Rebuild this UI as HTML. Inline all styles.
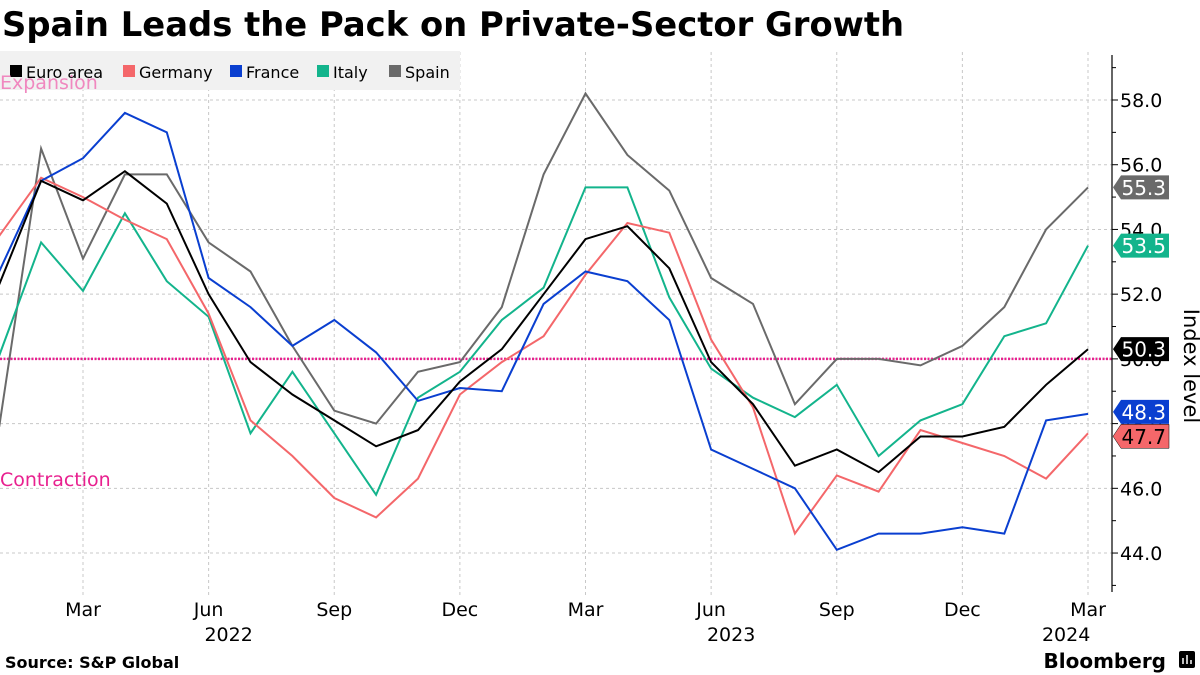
<!DOCTYPE html>
<html><head><meta charset="utf-8"><style>
body{margin:0;background:#fff;}
svg{display:block;font-family:"DejaVu Sans","Liberation Sans",sans-serif;}
</style></head><body>
<svg width="1200" height="675" viewBox="0 0 1200 675">
<text x="2" y="36" font-size="33.8" font-weight="bold" font-family="'DejaVu Sans',sans-serif" fill="#000">Spain Leads the Pack on Private-Sector Growth</text>
<g id="grid"></g>
<rect x="0" y="51" width="460" height="39" fill="#f1f1f1"/>
<g id="legend"></g>
<text x="0" y="89" font-size="19" fill="#f088bf">Expansion</text>
<text x="0" y="486" font-size="19" fill="#e8208f">Contraction</text>
<g id="series"></g>
<g id="yaxis"></g>
<g id="xaxis"></g>
<text transform="translate(1184,366) rotate(90)" font-size="21" text-anchor="middle" fill="#000">Index level</text>
<g id="labels"></g>
<text x="5" y="668" font-size="16" font-weight="bold" fill="#000">Source: S&amp;P Global</text>
<text x="1166" y="668" font-size="20" font-weight="bold" text-anchor="end" fill="#000">Bloomberg</text>
<rect x="1179" y="651" width="16" height="17" rx="2" fill="#000"/>
<path d="M1183 664 V658 M1187 664 V655 M1191 664 V660" stroke="#fff" stroke-width="1.5"/>
</svg>
<script>
const months = ["Jan22","Feb22","Mar22","Apr22","May22","Jun22","Jul22","Aug22","Sep22","Oct22","Nov22","Dec22","Jan23","Feb23","Mar23","Apr23","May23","Jun23","Jul23","Aug23","Sep23","Oct23","Nov23","Dec23","Jan24","Feb24","Mar24"];
const euroArea = [52.3,55.5,54.9,55.8,54.8,52.0,49.9,48.9,48.1,47.3,47.8,49.3,50.3,52.0,53.7,54.1,52.8,49.9,48.6,46.7,47.2,46.5,47.6,47.6,47.9,49.2,50.3];
const germany = [53.8,55.6,55.0,54.3,53.7,51.4,48.1,47.0,45.7,45.1,46.3,48.9,49.9,50.7,52.6,54.2,53.9,50.6,48.5,44.6,46.4,45.9,47.8,47.4,47.0,46.3,47.7];
const france = [52.7,55.5,56.2,57.6,57.0,52.5,51.6,50.4,51.2,50.2,48.7,49.1,49.0,51.7,52.7,52.4,51.2,47.2,46.6,46.0,44.1,44.6,44.6,44.8,44.6,48.1,48.3];
const italy = [50.1,53.6,52.1,54.5,52.4,51.3,47.7,49.6,47.7,45.8,48.8,49.6,51.2,52.2,55.3,55.3,51.9,49.7,48.8,48.2,49.2,47.0,48.1,48.6,50.7,51.1,53.5];
const spain = [47.9,56.5,53.1,55.7,55.7,53.6,52.7,50.4,48.4,48.0,49.6,49.9,51.6,55.7,58.2,56.3,55.2,52.5,51.7,48.6,50.0,50.0,49.8,50.4,51.6,54.0,55.3];
const seriesNames = ["Euro area","Germany","France","Italy","Spain"];
const yTicks = [44,46,48,50,52,54,56,58];
const xTickLabels = ["Mar","Jun","Sep","Dec","Mar","Jun","Sep","Dec","Mar"];
const xTickIdx = [2,5,8,11,14,17,20,23,26];
const yearLabels = ["2022","2023","2024"];
const yearIdx = [5,17,25];

const NS="http://www.w3.org/2000/svg";
const X = i => -0.75 + i*41.875;
const Y = v => 100 + (58 - v)*32.36;
function mk(tag, attrs, parent, text){const e=document.createElementNS(NS,tag);for(const k in attrs)e.setAttribute(k,attrs[k]);if(text!==undefined)e.textContent=text;parent.appendChild(e);return e;}
const grid=document.getElementById('grid'), ser=document.getElementById('series'), ya=document.getElementById('yaxis'), xa=document.getElementById('xaxis'), lab=document.getElementById('labels'), leg=document.getElementById('legend');

yTicks.forEach(v=>{
  const l=mk('line',{x1:0,x2:1112,y1:Y(v),y2:Y(v),stroke:'#c8c8c8','stroke-dasharray':'3,3'},grid);
  
  
  const t=mk('line',{x1:1112,x2:1118,y1:Y(v),y2:Y(v),stroke:'#000'},ya);
  
  
  const m=mk('line',{x1:1112,x2:1116,y1:Y(v+1),y2:Y(v+1),stroke:'#000'},ya);
  
  
  const tx=mk('text',{x:1120,y:Y(v)+7,'font-size':19,fill:'#000'},ya,v.toFixed(1));
  
  
});
const m0=mk('line',{x1:1112,x2:1116,y1:Y(43),y2:Y(43),stroke:'#000'},ya);


const ax=mk('line',{x1:1112,x2:1112,y1:55,y2:592,stroke:'#000','stroke-width':1.2},ya);



xTickIdx.forEach((i,k)=>{
  const g=mk('line',{x1:X(i),x2:X(i),y1:52,y2:598,stroke:'#c8c8c8','stroke-dasharray':'3,3'},grid);
  
  
  const t=mk('text',{x:X(i),y:616,'font-size':19,'text-anchor':'middle',fill:'#000'},xa,xTickLabels[k]);
  
  
});
yearIdx.forEach((i,k)=>{
  const t=mk('text',{x:X(i)+20,y:641,'font-size':19,'text-anchor':'middle',fill:'#000'},xa,yearLabels[k]);
  
  
});

const ref=mk('line',{x1:0,x2:1112,y1:Y(50),y2:Y(50),stroke:'#e8208f','stroke-width':2.5,'stroke-dasharray':'2,1.5'},ser);



const data=[euroArea,germany,france,italy,spain];
const colors=['#000000','#f4676a','#0a3fd0','#13b48c','#6a6a6a'];
const order=[4,3,1,2,0];
order.forEach(s=>{
  const pts=data[s].map((v,i)=>X(i).toFixed(1)+','+Y(v).toFixed(1)).join(' ');
  const p=mk('polyline',{points:pts,fill:'none',stroke:colors[s],'stroke-width':2,'stroke-linejoin':'miter'},ser);
  
  
});

const lblOrder=[2,1,0,3,4];
lblOrder.forEach(s=>{
  const v=data[s][data[s].length-1];
  let y=Y(v);
  if(s===2) y=Y(v)-2;
  if(s===1) y=Y(v)+3;
  const g=mk('g',{},lab);
  
  
  mk('path',{d:`M1113 ${y} L1121 ${y-12} L1169 ${y-12} L1169 ${y+12} L1121 ${y+12} Z`,fill:colors[s],stroke:s===1?'#000':'none','stroke-width':0.5},g);
  mk('text',{x:1166,y:y+7.5,'font-size':20,'text-anchor':'end',fill:(s===1?'#000':'#fff')},g,v.toFixed(1));
});

let lx=10;
const lw=[113,107,87,72,70];
seriesNames.forEach((n,s)=>{
  const g=mk('g',{},leg);
  
  
  mk('rect',{x:lx,y:65,width:12,height:12,fill:colors[s]},g);
  mk('text',{x:lx+16,y:78,'font-size':16,fill:'#000'},g,n);
  lx+=lw[s];
});
</script>
</body></html>
